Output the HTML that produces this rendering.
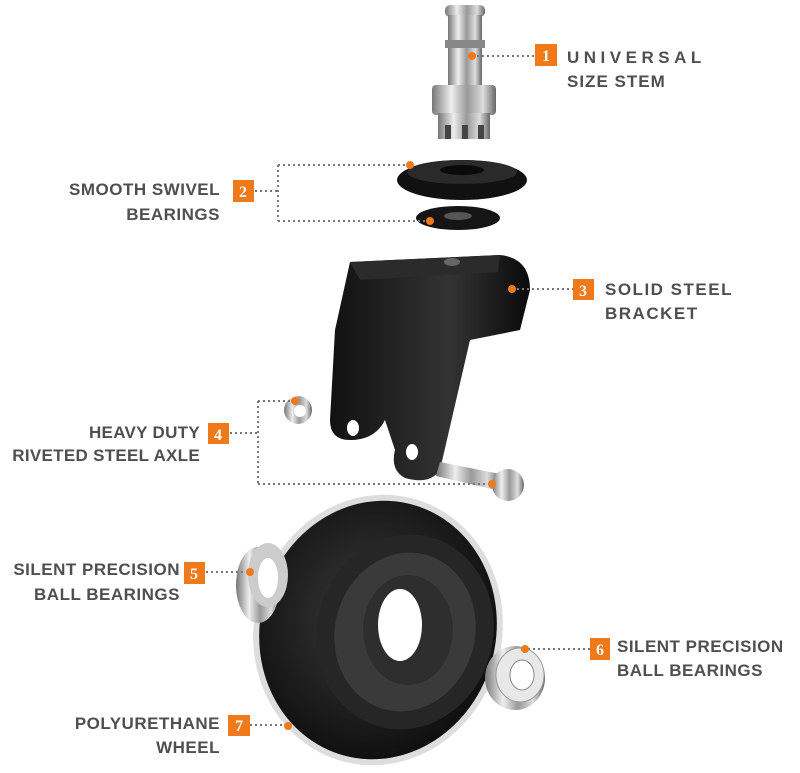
<!DOCTYPE html>
<html><head><style>
body{margin:0;background:#fff;}
svg{display:block;}
.t{font-family:"Liberation Sans",sans-serif;font-weight:bold;font-size:17px;fill:#4f4f4f;}
.n{font-family:"Liberation Serif",serif;font-weight:bold;font-size:16px;fill:#fff;}
.d{stroke:#777;stroke-width:2;stroke-dasharray:2 3;fill:none;}
</style></head><body>
<svg width="800" height="773" viewBox="0 0 800 773" xmlns="http://www.w3.org/2000/svg">
<defs>
<linearGradient id="met" x1="0" x2="1"><stop offset="0" stop-color="#777"/><stop offset=".3" stop-color="#eee"/><stop offset=".55" stop-color="#999"/><stop offset=".8" stop-color="#ddd"/><stop offset="1" stop-color="#666"/></linearGradient>
<linearGradient id="blk" x1="0" x2="1"><stop offset="0" stop-color="#111"/><stop offset=".6" stop-color="#333"/><stop offset="1" stop-color="#0a0a0a"/></linearGradient>
<radialGradient id="whl" cx=".45" cy=".45" r=".6"><stop offset="0" stop-color="#3a3a3a"/><stop offset="1" stop-color="#0d0d0d"/></radialGradient>
</defs>
<!-- stem -->
<rect x="445" y="5" width="40" height="12" rx="5" fill="url(#met)"/>
<rect x="448" y="15" width="34" height="70" fill="url(#met)"/>
<rect x="445" y="40" width="40" height="8" fill="#888"/>
<rect x="432" y="85" width="64" height="30" rx="4" fill="url(#met)"/>
<rect x="438" y="113" width="52" height="26" fill="url(#met)"/>
<rect x="445" y="125" width="6" height="14" fill="#444"/><rect x="462" y="125" width="6" height="14" fill="#444"/><rect x="478" y="125" width="6" height="14" fill="#444"/>
<!-- swivel bearings -->
<ellipse cx="462" cy="180" rx="65" ry="20" fill="#111"/>
<ellipse cx="462" cy="172" rx="55" ry="12" fill="#2a2a2a"/>
<ellipse cx="462" cy="170" rx="22" ry="5" fill="#0a0a0a"/>
<ellipse cx="458" cy="218" rx="42" ry="12" fill="#151515"/>
<ellipse cx="458" cy="216" rx="14" ry="4" fill="#555"/>
<!-- bracket -->
<path d="M350 262 L500 255 Q530 258 530 290 L520 330 L470 340 L440 470 Q430 485 405 478 Q390 470 395 450 L385 420 Q375 440 350 440 Q330 440 330 420 L335 330 Z" fill="url(#blk)"/>
<path d="M350 262 L500 255 L498 272 L360 280 Z" fill="#2b2b2b"/>
<ellipse cx="452" cy="262" rx="8" ry="4" fill="#666"/>
<ellipse cx="353" cy="428" rx="6" ry="8" fill="#fff"/>
<ellipse cx="412" cy="452" rx="6" ry="8" fill="#fff"/>
<!-- axle -->
<path d="M440 462 L500 474 L496 490 L436 476 Z" fill="url(#met)"/>
<circle cx="508" cy="485" r="16" fill="url(#met)"/>
<circle cx="298" cy="410" r="14" fill="url(#met)"/>
<circle cx="300" cy="411" r="6" fill="#fff"/>
<!-- wheel -->
<ellipse cx="378" cy="630" rx="124" ry="136" transform="rotate(15 378 630)" fill="#ddd"/>
<ellipse cx="378" cy="630" rx="118" ry="130" transform="rotate(15 378 630)" fill="url(#whl)"/>
<ellipse cx="405" cy="632" rx="88" ry="98" transform="rotate(15 405 632)" fill="#262626"/>
<ellipse cx="405" cy="632" rx="70" ry="80" transform="rotate(15 405 632)" fill="#3a3a3a"/>
<ellipse cx="408" cy="630" rx="45" ry="55" fill="#2e2e2e"/>
<ellipse cx="400" cy="625" rx="22" ry="36" fill="#fff"/>
<!-- bearing left -->
<ellipse cx="258" cy="585" rx="22" ry="38" fill="url(#met)"/>
<ellipse cx="268" cy="575" rx="20" ry="32" fill="#ccc"/>
<ellipse cx="268" cy="578" rx="10" ry="20" fill="#fff"/>
<!-- bearing right -->
<ellipse cx="515" cy="678" rx="30" ry="32" fill="url(#met)"/>
<ellipse cx="520" cy="675" rx="24" ry="27" fill="#e8e8e8" stroke="#999"/>
<ellipse cx="522" cy="675" rx="12" ry="15" fill="#fff" stroke="#888"/>
<!-- connectors -->
<path class="d" d="M472 56 H535"/>
<path class="d" d="M255 191 H278 M278 165 V221 M278 165 H410 M278 221 H430"/>
<path class="d" d="M512 289 H573"/>
<path class="d" d="M230 433 H258 M258 401 V484 M258 401 H295 M258 484 H492"/>
<path class="d" d="M206 572 H250"/>
<path class="d" d="M528 649 H590"/>
<path class="d" d="M250 725 H290"/>
<g fill="#f07a1a">
<circle cx="472" cy="56" r="4"/><circle cx="410" cy="165" r="4"/><circle cx="430" cy="221" r="4"/>
<circle cx="512" cy="289" r="4"/><circle cx="295" cy="401" r="4"/><circle cx="492" cy="484" r="4"/>
<circle cx="250" cy="572" r="4"/><circle cx="525" cy="649" r="4"/><circle cx="288" cy="726" r="4"/>
<rect x="535" y="44" width="22" height="22"/><rect x="233" y="180" width="21" height="22"/>
<rect x="573" y="279" width="21" height="21"/><rect x="208" y="423" width="21" height="21"/>
<rect x="184" y="562" width="21" height="22"/><rect x="590" y="638" width="20" height="22"/>
<rect x="228" y="715" width="22" height="21"/>
</g>
<text class="n" x="546" y="61" text-anchor="middle">1</text>
<text class="n" x="243" y="197" text-anchor="middle">2</text>
<text class="n" x="583" y="296" text-anchor="middle">3</text>
<text class="n" x="218" y="440" text-anchor="middle">4</text>
<text class="n" x="194" y="579" text-anchor="middle">5</text>
<text class="n" x="600" y="655" text-anchor="middle">6</text>
<text class="n" x="239" y="731" text-anchor="middle">7</text>
<text class="t" x="567" y="63" style="letter-spacing:4.5px">UNIVERSAL</text>
<text class="t" x="567" y="87" style="letter-spacing:1px">SIZE STEM</text>
<text class="t" x="220" y="195" text-anchor="end" style="letter-spacing:.5px">SMOOTH SWIVEL</text>
<text class="t" x="220" y="220" text-anchor="end" style="letter-spacing:.5px">BEARINGS</text>
<text class="t" x="605" y="295" style="letter-spacing:1.5px">SOLID STEEL</text>
<text class="t" x="605" y="319" style="letter-spacing:1.5px">BRACKET</text>
<text class="t" x="200" y="438" text-anchor="end" style="letter-spacing:.3px">HEAVY DUTY</text>
<text class="t" x="200" y="461" text-anchor="end" style="letter-spacing:.3px">RIVETED STEEL AXLE</text>
<text class="t" x="180" y="575" text-anchor="end" style="letter-spacing:.5px">SILENT PRECISION</text>
<text class="t" x="180" y="600" text-anchor="end" style="letter-spacing:.5px">BALL BEARINGS</text>
<text class="t" x="617" y="652" style="letter-spacing:.5px">SILENT PRECISION</text>
<text class="t" x="617" y="676" style="letter-spacing:.5px">BALL BEARINGS</text>
<text class="t" x="220" y="729" text-anchor="end" style="letter-spacing:.5px">POLYURETHANE</text>
<text class="t" x="220" y="753" text-anchor="end" style="letter-spacing:.5px">WHEEL</text>
</svg>
</body></html>
